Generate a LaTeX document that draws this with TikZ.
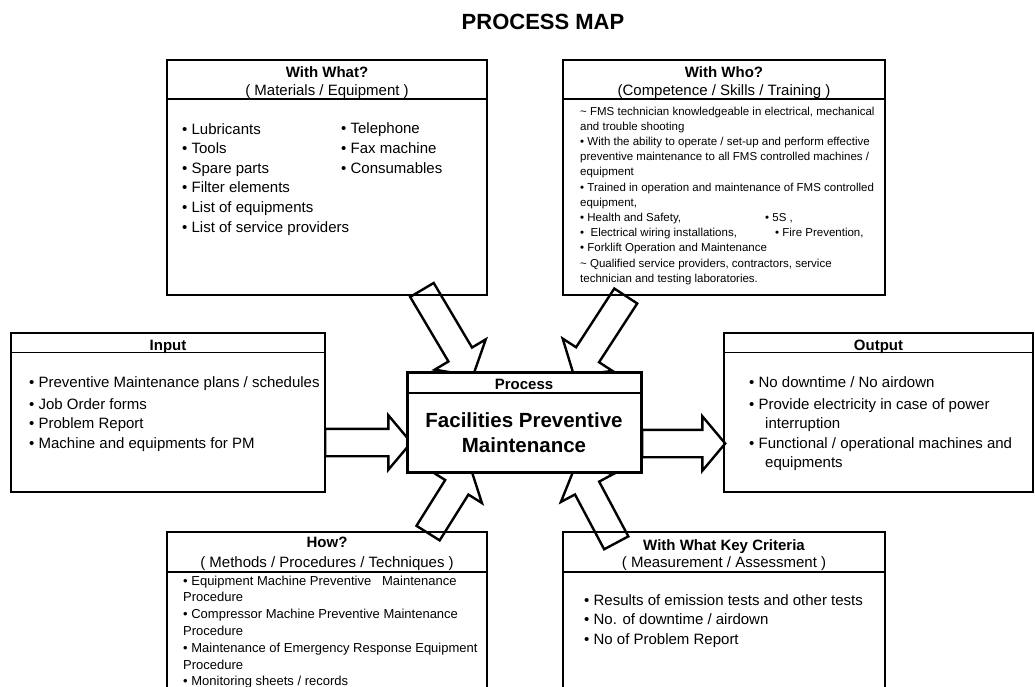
\documentclass[tikz,border=0pt]{standalone}
\usepackage{fontspec}
\setmainfont{Liberation Sans}
\usetikzlibrary{shapes.arrows,positioning}

\begin{document}
\begin{tikzpicture}[x=1pt,y=-1pt,
 box/.style={draw,line width=2.8pt,anchor=north west,inner sep=0pt,outer sep=0pt},
 sep/.style={line width=1.3pt},
 head/.style={font=\fontsize{15}{19}\selectfont,anchor=base,inner sep=0pt},
 headb/.style={head,font=\fontsize{15}{19}\selectfont\bfseries},
 body/.style={font=\fontsize{15}{19.6}\selectfont,align=left,anchor=base west,inner sep=0pt},
 fat/.style={single arrow,draw,line width=2.4pt,fill=white,inner xsep=0pt,inner ysep=12.5pt,
   single arrow head extend=16pt,single arrow tip angle=100,single arrow head indent=0pt,
   sloped,allow upside down}]
\clip (0,0) rectangle (1035,687);
\node[font=\fontsize{22}{26}\selectfont\bfseries,anchor=base,inner sep=0pt] (title) at (543,30) {PROCESS MAP};

% block arrows first, the boxes go over them
\coordinate (inT) at (324,442.5);   \coordinate (inH) at (408,442.5);
\coordinate (outT) at (641,443.5);  \coordinate (outH) at (725,443.5);
\coordinate (whatT) at (419,285);   \coordinate (whatH) at (470,371);
\coordinate (whoT) at (629,291);    \coordinate (whoH) at (577,371);
\coordinate (howT) at (425,538);    \coordinate (howH) at (467,471);
\coordinate (critT) at (619,548);   \coordinate (critH) at (578,471);
\path (inT) -- node[fat,pos=0,anchor=tail,single arrow head extend=13.5pt,minimum height=86pt] (ain) {} (inH);
\path (outT) -- node[fat,pos=0,anchor=tail,single arrow head extend=13.5pt,minimum height=83pt] (aout) {} (outH);
\path (whatT) -- node[fat,minimum height=100pt] (awhat) {} (whatH);
\path (whoT) -- node[fat,minimum height=95pt] (awho) {} (whoH);
\path (howT) -- node[fat,minimum height=79pt] (ahow) {} (howH);
\path (critT) -- node[fat,minimum height=87pt] (acrit) {} (critH);

% boxes
\node[box,minimum width=320pt,minimum height=235pt] (what) at (167,60) {};
\node[box,minimum width=322pt,minimum height=235pt] (who) at (563,60) {};
\node[box,minimum width=314pt,minimum height=159pt] (in) at (11,333) {};
\node[box,minimum width=309pt,minimum height=159pt] (out) at (724,333) {};
\node[box,minimum width=320pt,minimum height=165pt] (how) at (167,532) {};
\node[box,minimum width=322pt,minimum height=165pt] (crit) at (563,532) {};
\node[box,line width=3pt,fill=white,minimum width=234pt,minimum height=100pt] (proc) at (407,372) {};
\draw[sep] ([yshift=-39pt]what.north west) -- ([yshift=-39pt]what.north east);
\draw[sep] ([yshift=-39pt]who.north west) -- ([yshift=-39pt]who.north east);
\draw[sep] ([yshift=-19.5pt]in.north west) -- ([yshift=-19.5pt]in.north east);
\draw[sep] ([yshift=-19.5pt]out.north west) -- ([yshift=-19.5pt]out.north east);
\draw[sep] ([yshift=-40pt]how.north west) -- ([yshift=-40pt]how.north east);
\draw[sep] ([yshift=-40pt]crit.north west) -- ([yshift=-40pt]crit.north east);
\draw[line width=2.6pt] ([yshift=-21pt]proc.north west) -- ([yshift=-21pt]proc.north east);

% With What?  (body nodes sit on the baseline of their last line)
\node[headb] (whath) at (327,77.5) {With What?};
\node[head] (whats) at (327,95.5) {( Materials / Equipment )};
\node[body] (whatl) at (182,232) {• Lubricants\\• Tools\\• Spare parts\\• Filter elements\\• List of equipments\\• List of service providers};
\node[body] (whatr) at (341,173.2) {• Telephone\\• Fax machine\\• Consumables};

% With Who?
\node[headb] (whoh) at (724,77.5) {With Who?};
\node[head] (whos) at (724,95.5) {(Competence / Skills / Training )};
\node[body,font=\fontsize{11.5}{15.2}\selectfont] (whob) at (580,282.2) {\textasciitilde{} FMS technician knowledgeable in electrical, mechanical\\
and trouble shooting\\
• With the ability to operate / set-up and perform effective\\
preventive maintenance to all FMS controlled machines /\\
equipment\\
• Trained in operation and maintenance of FMS controlled\\
equipment,\\
\makebox[185pt][l]{• Health and Safety,}• 5S ,\\
\makebox[195pt][l]{•\ \ Electrical wiring installations,}• Fire Prevention,\\
• Forklift Operation and Maintenance\\
\textasciitilde{} Qualified service providers, contractors, service\\
technician and testing laboratories.};

% Input / Output
\node[headb] (inh) at (168,350) {Input};
\node[body] (inb) at (29,448.2) {• Preventive Maintenance plans / schedules\\[2.4pt]• Job Order forms\\• Problem Report\\• Machine and equipments for PM};
\node[headb] (outh) at (878.5,350) {Output};
\node[body] (outb) at (749,467.8) {• No downtime / No airdown\\[2.4pt]• Provide electricity in case of power\\\hspace*{16pt}interruption\\• Functional / operational machines and\\\hspace*{16pt}equipments};

% Process
\node[headb] (proch) at (524,389) {Process};
\node[font=\fontsize{20.5}{25}\selectfont\bfseries,align=center,anchor=base,inner sep=0pt] (procb) at (524,452) {Facilities Preventive\\Maintenance};

% How?
\node[headb] (howh) at (327,547) {How?};
\node[head] (hows) at (327,567) {( Methods / Procedures / Techniques )};
\node[body,font=\fontsize{13}{16.8}\selectfont] (howb) at (183,685.8) {• Equipment Machine Preventive \ \ Maintenance\\Procedure\\• Compressor Machine Preventive Maintenance\\Procedure\\• Maintenance of Emergency Response Equipment\\Procedure\\• Monitoring sheets / records};

% With What Key Criteria
\node[headb] (crith) at (724,550) {With What Key Criteria};
\node[head] (crits) at (724,567.5) {( Measurement / Assessment )};
\node[body] (critb) at (584,644.2) {• Results of emission tests and other tests\\• No. of downtime / airdown\\• No of Problem Report};
\end{tikzpicture}
\end{document}
